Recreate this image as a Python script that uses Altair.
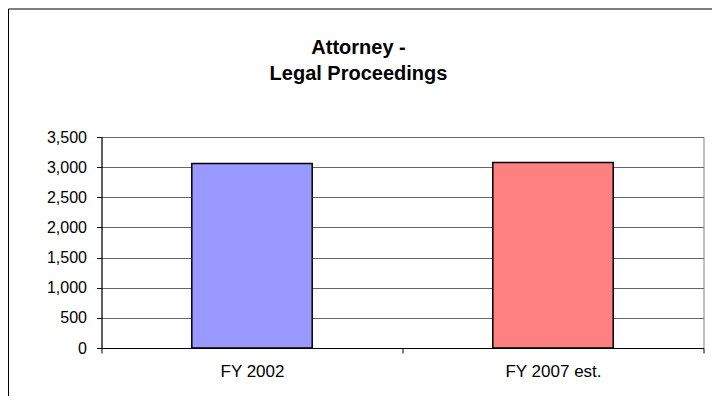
import altair as alt
import pandas as pd

categories = ["FY 2002", "FY 2007 est."]
values = [3060, 3075]
colors = ["#9999FF", "#FF8080"]
title_lines = ["Attorney -", "Legal Proceedings"]
y_ticks = [0, 500, 1000, 1500, 2000, 2500, 3000, 3500]

df = pd.DataFrame({"year": categories, "count": values, "color": colors})
one = pd.DataFrame({"k": [0]})

FONT = "Liberation Sans"

bars = alt.Chart(df).mark_bar(
    width=alt.RelativeBandSize(0.4),
    stroke="black",
    strokeWidth=1.5,
).encode(
    x=alt.X("year:N", sort=categories, title=None,
            scale=alt.Scale(paddingInner=0, paddingOuter=0),
            axis=alt.Axis(labelAngle=0, tickBand="extent", tickSize=5,
                          tickColor="black", domainColor="black",
                          labelPadding=10, labelFontSize=17, labelColor="black",
                          labelFont=FONT, grid=False)),
    y=alt.Y("count:Q", title=None,
            scale=alt.Scale(domain=[0, 3500], nice=False),
            axis=alt.Axis(values=y_ticks,
                          format=",.0f", tickSize=5, tickColor="black",
                          domainColor="black", labelPadding=10,
                          labelFontSize=16, labelColor="black", labelFont=FONT,
                          grid=True, gridColor="#666666", gridWidth=1)),
    color=alt.Color("color:N", scale=None, legend=None),
)

frame = alt.Chart(one).mark_rect(
    fill=None, stroke="black", strokeWidth=1, clip=False
).encode(
    x=alt.value(-93), x2=alt.value(640),
    y=alt.value(-128), y2=alt.value(300),
)

title = alt.Chart(one).mark_text(
    text=title_lines, font=FONT, fontSize=20, fontWeight="bold",
    color="black", align="center", baseline="alphabetic", lineHeight=26,
).encode(
    x=alt.value(257), y=alt.value(-83),
)

chart = alt.layer(frame, title, bars).properties(
    width=602,
    height=211,
    autosize=alt.AutoSizeParams(type="none"),
    padding={"left": 93.5, "top": 129, "right": 8, "bottom": 48},
).configure_view(stroke="#808080", strokeWidth=1)

chart.save("out.html", embed_options={"renderer": "svg", "actions": False})
